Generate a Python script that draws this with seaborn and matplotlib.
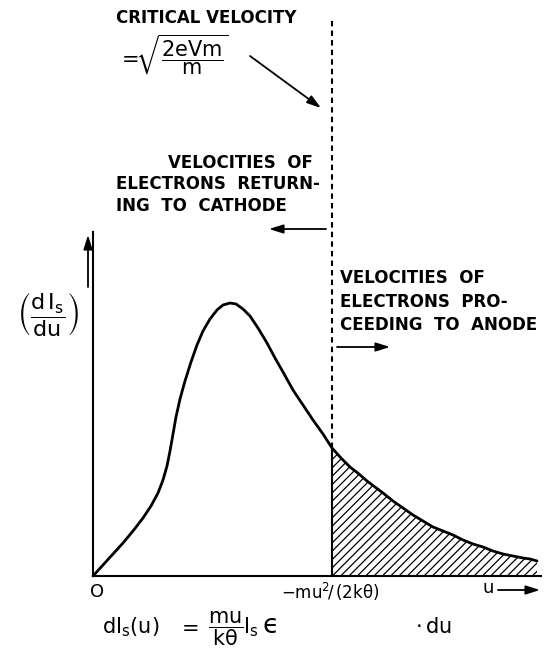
import numpy as np
import pandas as pd
import matplotlib
matplotlib.use("Agg")
import matplotlib.pyplot as plt
from matplotlib.patches import FancyArrowPatch
import seaborn as sns

# Velocity distribution of emitted electrons (arbitrary units)
velocity = [0.00, 0.10, 0.20, 0.30, 0.40, 0.50, 0.58, 0.65, 0.70, 0.74,
            0.77, 0.80, 0.83, 0.87, 0.92, 0.98, 1.04, 1.10, 1.17, 1.24,
            1.30, 1.37, 1.43, 1.50, 1.57, 1.65, 1.74, 1.82, 1.90, 2.00,
            2.10, 2.20, 2.30, 2.39, 2.48, 2.57, 2.66, 2.74, 2.82, 2.90,
            3.00, 3.10, 3.20, 3.30, 3.40, 3.50, 3.60, 3.70, 3.80, 3.90,
            4.00, 4.10, 4.20, 4.30, 4.37, 4.44]
current_density = [0.00, 0.11, 0.22, 0.33, 0.45, 0.58, 0.70, 0.83, 0.96, 1.10,
                   1.25, 1.42, 1.59, 1.77, 1.95, 2.14, 2.31, 2.45, 2.57, 2.66,
                   2.71, 2.73, 2.72, 2.67, 2.60, 2.48, 2.33, 2.18, 2.04, 1.86,
                   1.71, 1.56, 1.42, 1.28, 1.18, 1.09, 1.02, 0.95, 0.89, 0.83,
                   0.75, 0.68, 0.61, 0.55, 0.49, 0.45, 0.41, 0.36, 0.32, 0.29,
                   0.25, 0.22, 0.20, 0.18, 0.17, 0.15]
critical_velocity = 2.39

df = pd.DataFrame({"u": velocity, "dI": current_density})

W, H = 544, 648
sns.set_style("white")
plt.rcParams["font.family"] = ["DejaVu Sans"]
plt.rcParams["mathtext.fontset"] = "dejavusans"
plt.rcParams["mathtext.default"] = "regular"
plt.rcParams["hatch.linewidth"] = 0.9
plt.rcParams["hatch.color"] = "black"

fig = plt.figure(figsize=(W / 100, H / 100), dpi=100)
fig.patch.set_facecolor("white")
ax = fig.add_axes([0, 0, 1, 1])
ax.set_facecolor("white")
ax.set_xlim(-0.93, 4.51)
ax.set_ylim(-0.72, 5.76)

# axes drawn as spines through the origin
for side in ("top", "right"):
    ax.spines[side].set_visible(False)
ax.spines["left"].set_position(("data", 0))
ax.spines["bottom"].set_position(("data", 0))
ax.spines["left"].set_bounds(0, 3.44)
ax.spines["bottom"].set_bounds(0, 4.48)
for side in ("left", "bottom"):
    ax.spines[side].set_linewidth(1.5)
    ax.spines[side].set_color("black")
ax.set_xticks([])
ax.set_yticks([])

# distribution curve
sns.lineplot(data=df, x="u", y="dI", ax=ax, color="black", lw=2.0,
             sort=False, estimator=None)
ax.set_xlabel("")
ax.set_ylabel("")

# electrons fast enough to reach the anode
u_arr = np.asarray(velocity)
f_arr = np.asarray(current_density)
mask = u_arr >= critical_velocity
ax.fill_between(u_arr[mask], 0, f_arr[mask], facecolor="none",
                edgecolor="black", hatch="////", linewidth=0)
f_crit = f_arr[np.argmin(np.abs(u_arr - critical_velocity))]
ax.vlines(critical_velocity, 0, f_crit, color="black", lw=1.5)
ax.vlines(critical_velocity, f_crit, 5.58, color="black", lw=1.5,
          linestyles=(0, (2.6, 2.0)))


def fxy(px, py):
    return px / W, 1 - py / H


def put(px, py, s, **kw):
    opts = dict(color="black", ha="left", va="baseline",
                transform=fig.transFigure)
    opts.update(kw)
    fig.text(*fxy(px, py), s, **opts)


lab = dict(fontsize=12, fontweight="bold")

put(116, 23, "CRITICAL VELOCITY", **lab)
put(117, 55, r"$=\!\!\sqrt{\dfrac{2eVm}{m}}$", fontsize=15, va="center")

put(168, 168, "VELOCITIES  OF", **lab)
put(116, 189, "ELECTRONS  RETURN-", **lab)
put(116, 211, "ING  TO  CATHODE", **lab)

put(340, 283, "VELOCITIES  OF", **lab)
put(340, 307, "ELECTRONS  PRO-", **lab)
put(340, 330, "CEEDING  TO  ANODE", **lab)

put(48, 314, r"$\left(\dfrac{d\,I_s}{du}\right)$", fontsize=16,
    ha="center", va="center")

put(97, 592, "O", fontsize=13, ha="center", va="center")
put(488, 593, "u", fontsize=13, ha="center")

# emission law written beneath the axis
put(102, 633, r"$dI_s(u)$", fontsize=15)
put(177, 633, r"$=$", fontsize=15)
put(226, 633, r"$\dfrac{mu}{k\theta}$", fontsize=15, ha="center")
put(243, 633, r"$I_s$", fontsize=15)
put(263, 633, "\u03f5", fontsize=19)
put(281, 599, r"$-mu^2\!/\,(2k\theta)$", fontsize=12)
put(415, 633, r"$\cdot\,du$", fontsize=15)

arrow_kw = dict(arrowstyle="-|>,head_length=0.7,head_width=0.22", lw=1.3,
                color="black", shrinkA=0, shrinkB=0, mutation_scale=12,
                transform=fig.transFigure)


def draw_arrow(p0, p1):
    fig.add_artist(FancyArrowPatch(fxy(*p0), fxy(*p1), **arrow_kw))


draw_arrow((250, 56), (321, 108))
draw_arrow((326, 229), (269, 229))
draw_arrow((337, 347), (390, 347))
draw_arrow((498, 590), (540, 590))
draw_arrow((88, 287), (88, 235))

fig.savefig("out.png", dpi=100, facecolor="white")
